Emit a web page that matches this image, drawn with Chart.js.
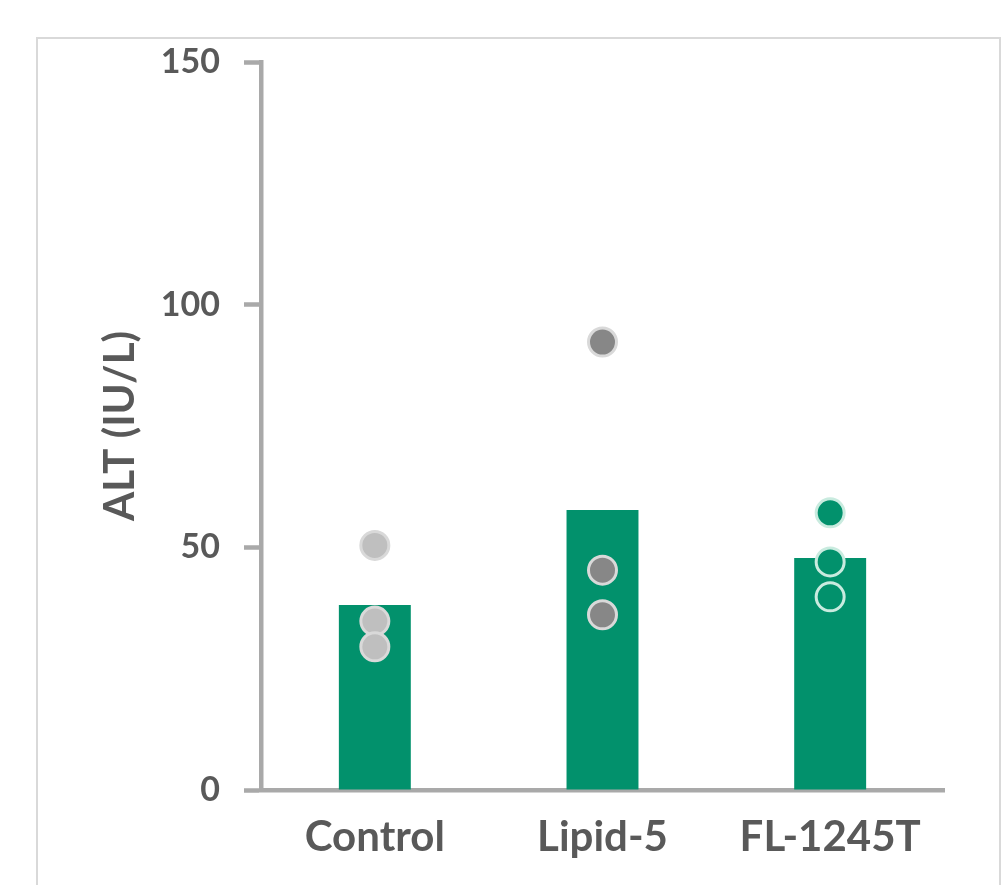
<!DOCTYPE html>
<html lang="en">
  <head>
    <meta charset="UTF-8" />
    <title>ALT (IU/L)</title>
    <script src="https://cdn.jsdelivr.net/npm/chart.js"></script>
    <style>
      html,
      body {
        margin: 0;
        padding: 0;
        background: #ffffff;
        overflow: hidden;
      }
      .frame {
        position: absolute;
        left: 36px;
        top: 37px;
        width: 961px;
        height: 900px;
        border: 2px solid #d9d9d9;
        border-bottom: none;
      }
      .wrap {
        position: absolute;
        left: 0;
        top: 0;
        width: 1007px;
        height: 885px;
      }
    </style>
  </head>
  <body>
    <div class="frame"></div>
    <div class="wrap">
      <canvas id="altChart"></canvas>
    </div>

    <script>
      // data
      const groups = ["Control", "Lipid-5", "FL-1245T"];
      const means = [38.1, 57.7, 47.8];
      const controlPoints = [50.4, 34.8, 29.5];
      const lipidPoints = [92.3, 45.3, 36.1];
      const flPoints = [57.1, 47.0, 39.8];
      const yTicks = [0, 50, 100, 150];

      const textColor = "#595959";
      const axisColor = "#a9a9a9";
      const green = "#02916c";

      function pointsFor(group, values) {
        return values.map((v) => ({ x: group, y: v }));
      }

      function pointSet(group, values, fill, edge) {
        return {
          type: "line",
          label: group,
          data: pointsFor(group, values),
          showLine: false,
          pointRadius: 14,
          pointHoverRadius: 14,
          pointBorderWidth: 3,
          pointBackgroundColor: fill,
          pointBorderColor: edge,
          order: 1,
        };
      }

      const ctx = document.getElementById("altChart").getContext("2d");
      const altChart = new Chart(ctx, {
        type: "bar",
        data: {
          labels: groups,
          datasets: [
            {
              label: "Mean",
              data: means,
              backgroundColor: green,
              borderWidth: 0,
              categoryPercentage: 1,
              barPercentage: 0.316,
              order: 2,
            },
            pointSet(groups[0], controlPoints, "#bfbfbf", "#d9d9d9"),
            pointSet(groups[1], lipidPoints, "#878787", "#d9d9d9"),
            pointSet(groups[2], flPoints, green, "#c9ebdf"),
          ],
        },
        options: {
          responsive: true,
          maintainAspectRatio: false,
          animation: false,
          layout: {
            padding: { top: 62, right: 63, bottom: 0, left: 0 },
          },
          plugins: {
            legend: { display: false },
            tooltip: { enabled: false },
          },
          scales: {
            x: {
              grid: { display: false, drawTicks: false },
              border: { display: true, color: axisColor, width: 4.5 },
              ticks: {
                color: textColor,
                padding: 22,
                font: { family: "Lato", size: 42, weight: "bold" },
              },
              afterFit: (scale) => {
                scale.height = 95;
              },
            },
            y: {
              min: 0,
              max: 150,
              afterBuildTicks: (scale) => {
                scale.ticks = yTicks.map((v) => ({ value: v }));
              },
              grid: {
                drawOnChartArea: false,
                drawTicks: true,
                tickLength: 17,
                tickWidth: 4.5,
                tickColor: axisColor,
              },
              border: { display: true, color: axisColor, width: 4.5 },
              ticks: {
                color: textColor,
                padding: 24,
                font: { family: "Lato", size: 34, weight: "bold" },
              },
              title: {
                display: true,
                text: "ALT (IU/L)",
                color: textColor,
                padding: { top: 95, bottom: 0 },
                font: { family: "Lato", size: 42, weight: "bold" },
              },
              afterFit: (scale) => {
                scale.width = 261;
              },
            },
          },
        },
      });
    </script>
  </body>
</html>
